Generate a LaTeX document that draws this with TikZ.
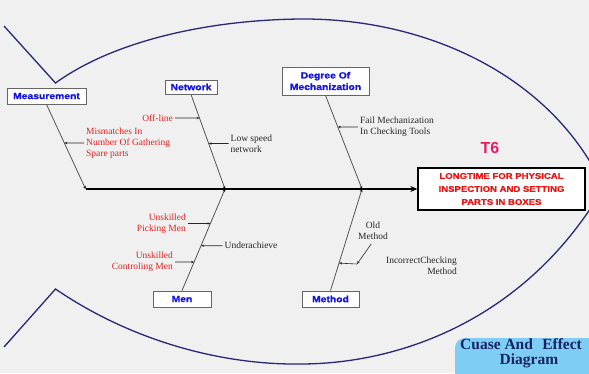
\documentclass[tikz,border=0pt]{standalone}
\usepackage{fontspec}
\setmainfont{Liberation Serif}
\newfontfamily\labelsans[FakeStretch=1.15,BoldFeatures={FakeBold=1.2}]{Liberation Sans}
\newfontfamily\plainsans{Liberation Sans}
\usetikzlibrary{arrows.meta,calc}

\definecolor{pagebg}{RGB}{240,240,240}
\definecolor{fishnavy}{RGB}{40,40,120}
\definecolor{catblue}{RGB}{20,20,225}
\definecolor{causered}{RGB}{228,32,32}
\definecolor{effectred}{RGB}{235,20,20}
\definecolor{tagpink}{RGB}{228,30,100}
\definecolor{titlenavy}{RGB}{25,35,100}
\definecolor{titlebg}{RGB}{125,205,245}
\definecolor{bonegray}{RGB}{85,85,85}

\begin{document}
\begin{tikzpicture}[x=1pt,y=-1pt,
  fishline/.style={draw=fishnavy,line width=1.3pt},
  catbox/.style={draw=gray!80!black,fill=white,line width=0.8pt,inner sep=0pt,
    font=\labelsans\bfseries\fontsize{9}{11.5}\selectfont,text=catblue},
  effectbox/.style={draw=black,fill=white,line width=1.3pt,inner sep=0pt,
    font=\labelsans\bfseries\fontsize{8.3}{13}\selectfont,text=effectred},
  redcause/.style={font=\fontsize{9.5}{11}\selectfont,text=causered,inner sep=2pt},
  blackcause/.style={font=\fontsize{9.5}{11}\selectfont,text=black!85,inner sep=2pt},
  spine/.style={draw=black,line width=1.8pt,-{Stealth[length=7pt,width=6pt]}},
  bone/.style={draw=bonegray,line width=0.8pt,-{Stealth[length=3pt,width=2.6pt,color=black]}},
  twig/.style={draw=black!85,line width=0.6pt,-{Stealth[length=3pt,width=2.4pt]}},
  titletext/.style={font=\bfseries\fontsize{15.5}{18}\selectfont,text=titlenavy,inner sep=0pt}]

\useasboundingbox (0,0) rectangle (589,373);
\fill[pagebg] (0,0) rectangle (589,373);
\clip (0,0) rectangle (589,373);

% fish outline: upper and lower body with the tail notches
\draw[fishline] (4,26) -- (55.5,83)
  .. controls (115,40) and (210,20) .. (300,19)
  .. controls (420,18) and (540,70) .. (596,172);
\draw[fishline] (4,347) -- (55.5,289)
  .. controls (130,340) and (220,365) .. (300,364)
  .. controls (400,364) and (520,320) .. (596,200);

% category boxes
\node[catbox,minimum width=79pt,minimum height=16pt] (meas) at (46.5,96) {Measurement};
\node[catbox,minimum width=52pt,minimum height=14pt] (net) at (191,87) {Network};
\node[catbox,minimum width=87pt,minimum height=28pt,align=center] (deg) at (325.5,81) {Degree Of\\Mechanization};
\node[catbox,minimum width=58pt,minimum height=16pt] (men) at (182,299) {Men};
\node[catbox,minimum width=57pt,minimum height=16pt] (meth) at (330.5,299) {Method};

% effect
\node[effectbox,minimum width=167pt,minimum height=42pt,align=center] (eff) at (501.5,189)
  {LONGTIME FOR PHYSICAL\\INSPECTION AND SETTING\\PARTS IN BOXES};
\node[font=\plainsans\bfseries\fontsize{16}{16}\selectfont,text=tagpink] (tag) at (490,148) {T6};

% spine and bones
\coordinate (j0) at (85.6,189);
\coordinate (j1) at (225,189);
\coordinate (j2) at (362,189);
\draw[spine] (j0) -- (eff.west);
\draw[bone] (meas.south) -- (j0);
\draw[bone] (net.south) -- (j1);
\draw[bone] (deg.south) -- (j2);
\draw[bone] (men.north) -- (j1);
\draw[bone] (meth.north) -- (j2);

% sub-causes
\node[redcause,anchor=west,align=left] (mis) at (84,143) {Mismatches In\\Number Of Gathering\\Spare parts};
\draw[twig] (mis.west) -- (intersection of meas.south--j0 and mis.west--mis.east);

\node[redcause,anchor=east] (off) at (175,118) {Off-line};
\draw[twig] (off.east) -- (intersection of net.south--j1 and off.west--off.east);

\node[blackcause,anchor=west,align=left] (low) at (228.5,143.5) {Low speed\\network};
\draw[twig] (low.west) -- (intersection of net.south--j1 and low.west--low.east);

\node[blackcause,anchor=west,align=left] (fail) at (358,127) {Fail Mechanization\\In Checking Tools};
\draw[twig] (fail.west) -- (intersection of deg.south--j2 and fail.west--fail.east);

\node[redcause,anchor=east,align=right] (pick) at (188,223.5) {Unskilled\\Picking Men};
\draw[twig] (pick.east) -- (intersection of men.north--j1 and pick.west--pick.east);

\node[blackcause,anchor=west] (under) at (222.5,245.7) {Underachieve};
\draw[twig] (under.west) -- (intersection of men.north--j1 and under.west--under.east);

\node[redcause,anchor=east,align=right] (ctrl) at (175,262) {Unskilled\\Controling Men};
\draw[twig] (ctrl.east) -- (intersection of men.north--j1 and ctrl.west--ctrl.east);

\node[blackcause,align=center] (old) at (373,230.4) {Old\\Method};
\node[blackcause,anchor=east,align=right] (inc) at (459,265.3) {IncorrectChecking\\Method};
\coordinate (oldbend) at (357,264);
\draw[twig,shorten <=3pt] (old.south) -- (oldbend);
\draw[twig] (oldbend) -- (intersection of meth.north--j2 and oldbend--inc.west);

% title badge
\fill[titlebg,rounded corners=10pt] (455,338) rectangle (610,390);
\node[titletext,anchor=base west] (ttl1) at (460,349.5) {Cuase And\hspace{0.6em}Effect};
\node[titletext,anchor=base] (ttl2) at (529,364) {Diagram};
\end{tikzpicture}
\end{document}
